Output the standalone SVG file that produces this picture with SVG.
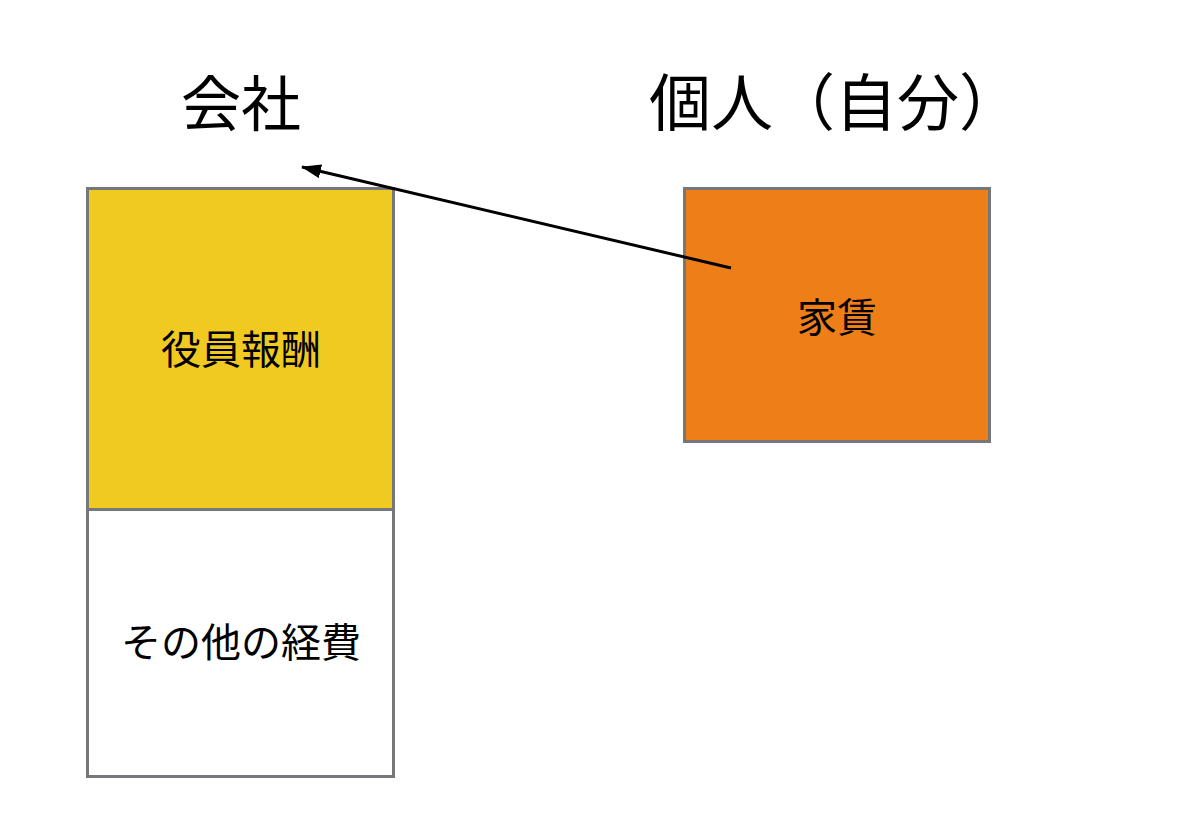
<svg xmlns="http://www.w3.org/2000/svg" width="1198" height="834" viewBox="0 0 1198 834">
  <style>
    .box { stroke: #76777b; stroke-width: 3; }
    .title { font-family: "Noto Sans CJK JP", "Noto Sans CJK SC", sans-serif; font-size: 60px; fill: #000; text-anchor: middle; }
    .label { font-family: "Noto Sans CJK JP", "Noto Sans CJK SC", sans-serif; font-size: 40px; fill: #000; text-anchor: middle; }
  </style>
  <defs>
    <marker id="arrow" markerWidth="20" markerHeight="14" refX="19" refY="7" orient="auto" markerUnits="userSpaceOnUse" viewBox="0 0 20 14">
      <path d="M0,0 L20,7 L0,14 Z" fill="#000"/>
    </marker>
  </defs>
  <rect width="1198" height="834" fill="#fff"/>
  <text class="title" x="241" y="126">会社</text>
  <text class="title" x="835" y="126" style="font-size:62px">個人（自分）</text>
  <g id="node-yakuin">
    <rect class="box" x="87.5" y="188.5" width="306" height="321" fill="#F1CA21"/>
    <text class="label" x="241" y="364">役員報酬</text>
  </g>
  <g id="node-sonota">
    <rect class="box" x="87.5" y="509.5" width="306" height="267" fill="#fff"/>
    <text class="label" x="241" y="657">その他の経費</text>
  </g>
  <g id="node-yachin">
    <rect class="box" x="684.5" y="188.5" width="305" height="253" fill="#EE7E17"/>
    <text class="label" x="837" y="332">家賃</text>
  </g>
  <g id="connectors">
    <line x1="731" y1="268" x2="302" y2="167" stroke="#000" stroke-width="3" marker-end="url(#arrow)"/>
  </g>
</svg>
